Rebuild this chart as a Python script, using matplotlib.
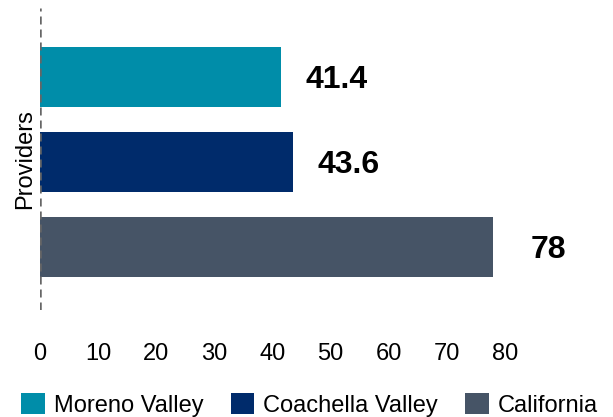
import matplotlib
matplotlib.use("Agg")
import matplotlib.pyplot as plt
from matplotlib.patches import Patch

plt.rcParams['font.family'] = ['Liberation Sans', 'DejaVu Sans']

series = ["Moreno Valley", "Coachella Valley", "California"]
values = [41.4, 43.6, 78]
labels = ["41.4", "43.6", "78"]
colors = ["#008DA9", "#002B6B", "#465466"]
xticks = [0, 10, 20, 30, 40, 50, 60, 70, 80]
category = "Providers"

fig = plt.figure(figsize=(6.13, 4.17), dpi=100)
ax = fig.add_axes([40/613, 1-310/417, (505-40)/613, (310-8)/417])

pos = list(range(len(values)))
ax.barh(pos, values, height=0.706, color=colors)
for p, v, t in zip(pos, values, labels):
    ax.annotate(t, xy=(v, p), xytext=(40, -2), textcoords='offset points',
                ha='center', va='center', fontsize=23, fontweight='bold',
                annotation_clip=False)

ax.set_xlim(0, 80)
ax.set_ylim(2 + 0.74, -0.81)
ax.set_xticks(xticks)
ax.set_xticklabels([str(x) for x in xticks])
ax.set_yticks([])
ax.tick_params(axis='x', length=0, pad=24, labelsize=17)
for s in ['top', 'right', 'bottom', 'left']:
    ax.spines[s].set_visible(False)
ax.axvline(0, color='#666666', linestyle=(0, (3.2, 2.0)), linewidth=1.8, zorder=3)
ax.set_ylabel(category, fontsize=17, labelpad=3)

handles = [Patch(facecolor=c, edgecolor='none') for c in colors]
fig.legend(handles, series, loc='lower center', bbox_to_anchor=(0.505, -0.05),
           ncol=3, frameon=False, fontsize=17, handlelength=1.0, handleheight=1.0,
           handletextpad=0.38, columnspacing=1.15)

fig.savefig("out.png", dpi=100)
